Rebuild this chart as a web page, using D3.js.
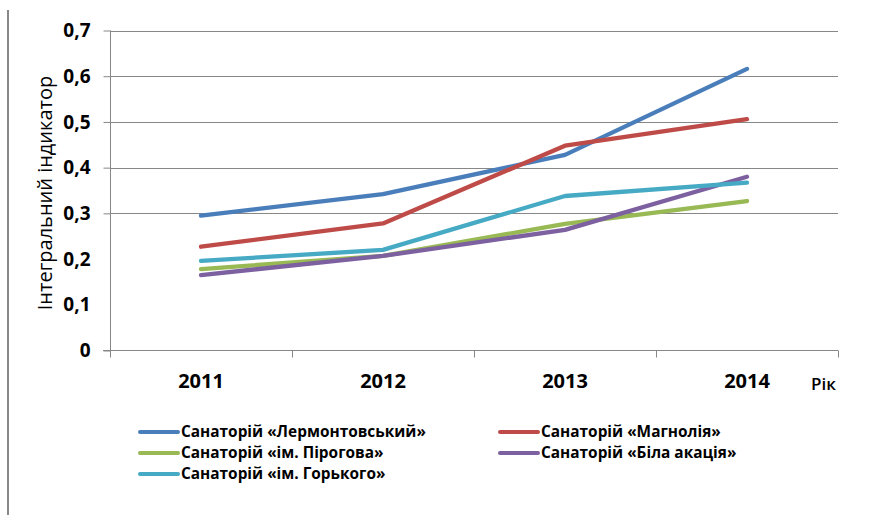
<!DOCTYPE html>
<html>
<head>
<meta charset="utf-8">
<script src="https://cdn.jsdelivr.net/npm/d3@7"></script>
<style>
  body { margin: 0; background: #fff; }
  svg { display: block; font-family: "Open Sans", sans-serif; }
</style>
</head>
<body>
<script>
// chart data
var years = ["2011", "2012", "2013", "2014"];
var yTicks = [0, 0.1, 0.2, 0.3, 0.4, 0.5, 0.6, 0.7];
var gridTicks = [0.3, 0.4, 0.5, 0.6, 0.7];   // only these have gridlines in the original
var names = ["Санаторій «Лермонтовський»", "Санаторій «Магнолія»", "Санаторій «ім. Пірогова»",
             "Санаторій «Біла акація»", "Санаторій «ім. Горького»"];
var lermontov = [0.295, 0.342, 0.428, 0.616];
var magnolia  = [0.227, 0.278, 0.448, 0.506];
var pirogov   = [0.178, 0.207, 0.277, 0.327];
var bilaAkac  = [0.165, 0.207, 0.264, 0.380];
var gorky     = [0.196, 0.220, 0.338, 0.367];
var colors = ["#4A7EBB", "#BE4B48", "#98B954", "#7D60A0", "#46AAC5"];

var series = [lermontov, magnolia, pirogov, bilaAkac, gorky];

var W = 879, H = 515;
var svg = d3.select("body").append("svg").attr("width", W).attr("height", H);

// outer frame edge on the left
svg.append("line").attr("x1", 8).attr("x2", 8).attr("y1", 10).attr("y2", H)
  .attr("stroke", "#888").attr("stroke-width", 2);

var x = d3.scaleBand().domain(years).range([110, 838]);
var y = d3.scaleLinear().domain([0, 0.7]).range([350.5, 30.5]);

// gridlines
svg.append("g").selectAll("line").data(gridTicks).enter().append("line")
  .attr("x1", 110).attr("x2", 838)
  .attr("y1", function(d) { return Math.round(y(d)) + 0.5; })
  .attr("y2", function(d) { return Math.round(y(d)) + 0.5; })
  .attr("stroke", "#878787").attr("stroke-width", 1);

// y axis
var yAxis = svg.append("g").attr("transform", "translate(110.5,0)")
  .call(d3.axisLeft(y).tickValues(yTicks).tickSize(7).tickPadding(13)
    .tickFormat(function(d) { return d === 0 ? "0" : d3.format(".1f")(d).replace(".", ","); }));
yAxis.select(".domain").attr("d", "M0,30.5V357").attr("stroke", "#878787");
yAxis.selectAll(".tick line").attr("stroke", "#878787")
  .attr("opacity", function(d) { return d >= 0.3 || d === 0 ? 1 : 0; });
yAxis.selectAll(".tick text").attr("font-size", 19).attr("font-weight", "bold")
  .attr("fill", "#000").attr("font-family", "'Open Sans', sans-serif");

// x axis
var xAxis = svg.append("g").attr("transform", "translate(0,350.5)");
xAxis.append("line").attr("x1", 103).attr("x2", 838).attr("stroke", "#878787");
xAxis.selectAll(".xt").data(years.concat(["end"])).enter().append("line")
  .attr("x1", function(d) { return d === "end" ? 838.5 : Math.round(x(d)) + 0.5; })
  .attr("x2", function(d) { return d === "end" ? 838.5 : Math.round(x(d)) + 0.5; })
  .attr("y1", 0).attr("y2", 7).attr("stroke", "#878787");
xAxis.selectAll(".xl").data(years).enter().append("text")
  .attr("x", function(d) { return x(d) + x.bandwidth() / 2; })
  .attr("y", 37).attr("text-anchor", "middle")
  .attr("font-size", 20).attr("font-weight", "bold").text(function(d) { return d; });

svg.append("text").attr("x", 811).attr("y", 390).attr("font-size", 17)
  .attr("font-weight", "600").text("Рік");

svg.append("text")
  .attr("transform", "translate(52,193) rotate(-90)")
  .attr("text-anchor", "middle").attr("font-size", 20).attr("font-weight", "500")
  .text("Інтегральний індикатор");

// lines
var line = d3.line()
  .x(function(d, i) { return x(years[i]) + x.bandwidth() / 2; })
  .y(function(d) { return y(d); });

svg.append("g").selectAll("path").data(series).enter().append("path")
  .attr("d", line).attr("fill", "none")
  .attr("stroke", function(d, i) { return colors[i]; })
  .attr("stroke-width", 4.3).attr("stroke-linecap", "round").attr("stroke-linejoin", "round");

// legend
var legPos = [[140, 432], [500, 432], [140, 453], [500, 453], [140, 474]];
var leg = svg.append("g").selectAll("g").data(names).enter().append("g")
  .attr("transform", function(d, i) { return "translate(" + legPos[i][0] + "," + legPos[i][1] + ")"; });
leg.append("line").attr("x1", 0).attr("x2", 38)
  .attr("stroke", function(d, i) { return colors[i]; }).attr("stroke-width", 4)
  .attr("stroke-linecap", "round");
leg.append("text").attr("x", 41).attr("y", 5).attr("font-size", 15.4)
  .attr("font-weight", "bold").text(function(d) { return d; });
</script>
</body>
</html>
